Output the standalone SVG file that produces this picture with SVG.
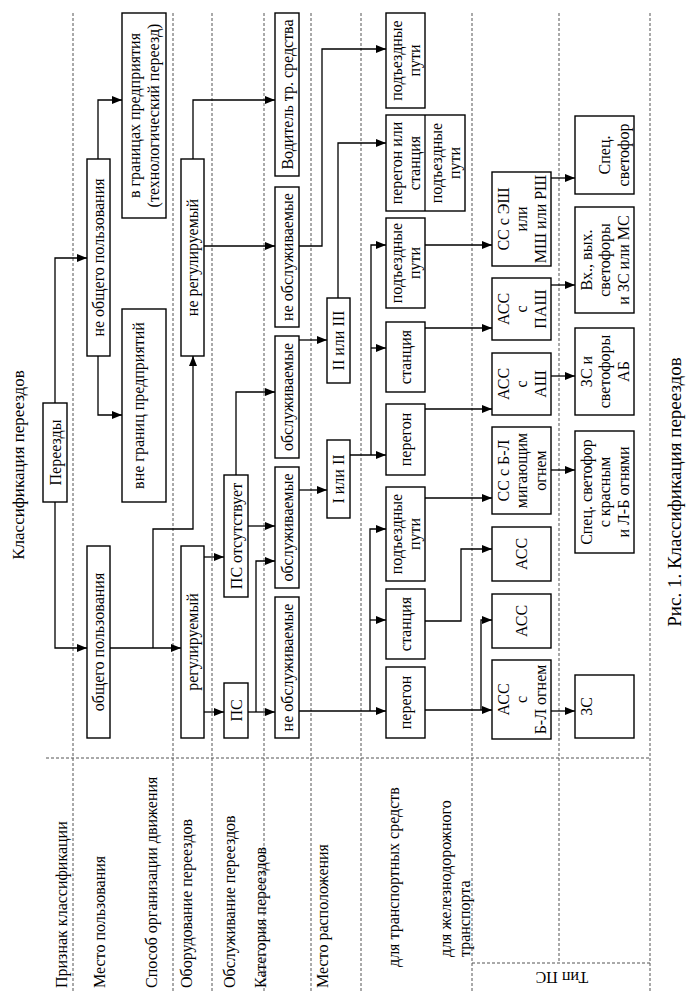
<svg xmlns="http://www.w3.org/2000/svg" width="691" height="1001" viewBox="0 0 691 1001">
<style>
.bx{fill:#fff;stroke:#000;stroke-width:1.4}
.t{font-family:"Liberation Serif","Times New Roman",serif;font-size:16px;fill:#000;text-anchor:middle}
.l{font-family:"Liberation Serif","Times New Roman",serif;font-size:16px;fill:#000;text-anchor:start}
.c{fill:none;stroke:#000;stroke-width:1.3}
.a{marker-end:url(#ah)}
.d{fill:none;stroke:#555;stroke-width:1;stroke-dasharray:3 2}
</style>
<defs>
<marker id="ah" viewBox="0 0 10 8" refX="10" refY="4" markerWidth="10" markerHeight="8" markerUnits="userSpaceOnUse" orient="auto"><path d="M0,0 L10,4 L0,8 z" fill="#000"/></marker>
</defs>
<rect width="691" height="1001" fill="#fff"/>

<g id="grid">
<path class="d" d="M73,13V992M173,13V992M212,13V992M264,13V992M311,13V992M361,13V992M472,13V992M559,13V963M650,13V992M46,758H650M472,963H650"/>
</g>

<g id="labels">
<text class="t" style="font-size:17px" transform="translate(24,465) rotate(-90)">Классификация переездов</text>
<text class="t" style="font-size:19px" transform="translate(681,492) rotate(-90)">Рис. 1. Классификация переездов</text>
<text class="l" transform="translate(67,988) rotate(-90)">Признак классификации</text>
<text class="l" transform="translate(105,988) rotate(-90)">Место пользования</text>
<text class="l" transform="translate(157,988) rotate(-90)">Способ организации движения</text>
<text class="l" transform="translate(192,988) rotate(-90)">Оборудование переездов</text>
<text class="l" transform="translate(235,988) rotate(-90)">Обслуживание переездов</text>
<text class="l" transform="translate(266,988) rotate(-90)">Категория переездов</text>
<text class="l" transform="translate(328,988) rotate(-90)">Место расположения</text>
<text class="l" transform="translate(399,967) rotate(-90)">для транспортных средств</text>
<text class="l" transform="translate(451,957) rotate(-90)"><tspan x="0" y="0">для железнодорожного</tspan><tspan x="0" y="19">транспорта</tspan></text>
<text class="t" transform="translate(562,978) rotate(180)" y="5.6">Тип ПС</text>
</g>

<g id="connectors">
<path class="c a" d="M55,403V258H87"/>
<path class="c a" d="M55,502V648H87"/>
<path class="c a" d="M98,159V100H122"/>
<path class="c a" d="M98,356V415H122"/>
<path class="c a" d="M110,648H181"/>
<path class="c a" d="M153,648V529H193V356"/>
<path class="c a" d="M193,159V100H275"/>
<path class="c a" d="M204,246H275"/>
<path class="c a" d="M204,557H224"/>
<path class="c a" d="M204,712H224"/>
<path class="c a" d="M236,475V392H275"/>
<path class="c a" d="M248,526H275"/>
<path class="c a" d="M248,712H275"/>
<path class="c a" d="M256,712V561H275"/>
<path class="c a" d="M299,246H322V49H386"/>
<path class="c a" d="M299,340H327"/>
<path class="c a" d="M299,490H327"/>
<path class="c a" d="M338,298V143H386"/>
<path class="c a" d="M350,455H386"/>
<path class="c a" d="M371,455V245H386"/>
<path class="c a" d="M371,348H386"/>
<path class="c a" d="M299,711H386"/>
<path class="c a" d="M370,711V529H386"/>
<path class="c a" d="M370,620H386"/>
<path class="c a" d="M425,245H492"/>
<path class="c a" d="M425,328H492"/>
<path class="c a" d="M425,409H492"/>
<path class="c a" d="M425,498H492"/>
<path class="c a" d="M425,621H461V549H492"/>
<path class="c a" d="M425,710H492"/>
<path class="c a" d="M481,710V620H492"/>
<path class="c a" d="M551,178H575"/>
<path class="c a" d="M551,285H575"/>
<path class="c a" d="M551,376H575"/>
<path class="c a" d="M551,470H575"/>
<path class="c a" d="M551,711H575"/>
</g>

<g id="n-pereezdy"><rect class="bx" x="43" y="403" width="24" height="99"/><text class="t" transform="translate(55,452.5) rotate(-90)" y="5.6">Переезды</text></g>
<g id="n-neobshch"><rect class="bx" x="87" y="159" width="23" height="197"/><text class="t" transform="translate(98.5,257.5) rotate(-90)" y="5.6">не общего пользования</text></g>
<g id="n-obshch"><rect class="bx" x="87" y="546" width="23" height="192"/><text class="t" transform="translate(98.5,642) rotate(-90)" y="5.6">общего пользования</text></g>
<g id="n-vgran"><rect class="bx" x="122" y="13" width="44" height="205"/><text class="t" transform="translate(144,115.5) rotate(-90)"><tspan x="0" y="-3.9">в границах предприятия</tspan><tspan x="0" y="15.1">(технологический переезд)</tspan></text></g>
<g id="n-vnegran"><rect class="bx" x="122" y="309" width="44" height="193"/><text class="t" transform="translate(144,405.5) rotate(-90)" y="0">вне границ предприятий</text></g>
<g id="n-nereg"><rect class="bx" x="181" y="159" width="23" height="197"/><text class="t" transform="translate(192.5,257.5) rotate(-90)" y="5.6">не регулируемый</text></g>
<g id="n-reg"><rect class="bx" x="181" y="546" width="23" height="192"/><text class="t" transform="translate(192.5,642) rotate(-90)" y="5.6">регулируемый</text></g>
<g id="n-psnet"><rect class="bx" x="224" y="475" width="24" height="122"/><text class="t" transform="translate(236,536) rotate(-90)" y="5.6">ПС отсутствует</text></g>
<g id="n-ps"><rect class="bx" x="224" y="683" width="24" height="55"/><text class="t" transform="translate(236,710.5) rotate(-90)" y="5.6">ПС</text></g>
<g id="n-voditel"><rect class="bx" x="275" y="13" width="24" height="163"/><text class="t" transform="translate(287,94.5) rotate(-90)" y="5.6">Водитель тр. средства</text></g>
<g id="n-neobsl1"><rect class="bx" x="275" y="187" width="24" height="140"/><text class="t" transform="translate(287,257) rotate(-90)" y="5.6">не обслуживаемые</text></g>
<g id="n-obsl1"><rect class="bx" x="275" y="336" width="24" height="122"/><text class="t" transform="translate(287,397) rotate(-90)" y="5.6">обслуживаемые</text></g>
<g id="n-obsl2"><rect class="bx" x="275" y="467" width="24" height="121"/><text class="t" transform="translate(287,527.5) rotate(-90)" y="5.6">обслуживаемые</text></g>
<g id="n-neobsl2"><rect class="bx" x="275" y="597" width="24" height="141"/><text class="t" transform="translate(287,667.5) rotate(-90)" y="5.6">не обслуживаемые</text></g>
<g id="n-cat23"><rect class="bx" x="327" y="298" width="23" height="85"/><text class="t" transform="translate(338.5,340.5) rotate(-90)" y="5.6">II или III</text></g>
<g id="n-cat12"><rect class="bx" x="327" y="440" width="23" height="78"/><text class="t" transform="translate(338.5,479) rotate(-90)" y="5.6">I или II</text></g>
<g id="n-podp1"><rect class="bx" x="386" y="13" width="39" height="95"/><text class="t" transform="translate(405.5,60.5) rotate(-90)"><tspan x="0" y="-3.4">подъездные</tspan><tspan x="0" y="14.6">пути</tspan></text></g>
<g id="n-perst"><rect class="bx" x="386" y="115" width="79" height="96"/><path class="c" d="M425,115V211"/><text class="t" transform="translate(405.5,163) rotate(-90)"><tspan x="0" y="-3.4">перегон или</tspan><tspan x="0" y="14.6">станция</tspan></text><text class="t" transform="translate(445,163) rotate(-90)"><tspan x="0" y="-3.4">подъездные</tspan><tspan x="0" y="14.6">пути</tspan></text></g>
<g id="n-podp2"><rect class="bx" x="386" y="218" width="39" height="90"/><text class="t" transform="translate(405.5,263) rotate(-90)"><tspan x="0" y="-3.4">подъездные</tspan><tspan x="0" y="14.6">пути</tspan></text></g>
<g id="n-st1"><rect class="bx" x="386" y="322" width="39" height="70"/><text class="t" transform="translate(405.5,357) rotate(-90)" y="5.6">станция</text></g>
<g id="n-per1"><rect class="bx" x="386" y="404" width="39" height="71"/><text class="t" transform="translate(405.5,439.5) rotate(-90)" y="5.6">перегон</text></g>
<g id="n-podp3"><rect class="bx" x="386" y="487" width="39" height="94"/><text class="t" transform="translate(405.5,534) rotate(-90)"><tspan x="0" y="-3.4">подъездные</tspan><tspan x="0" y="14.6">пути</tspan></text></g>
<g id="n-st2"><rect class="bx" x="386" y="589" width="39" height="70"/><text class="t" transform="translate(405.5,624) rotate(-90)" y="5.6">станция</text></g>
<g id="n-per2"><rect class="bx" x="386" y="667" width="39" height="71"/><text class="t" transform="translate(405.5,702.5) rotate(-90)" y="5.6">перегон</text></g>
<g id="n-ssesh"><rect class="bx" x="492" y="172" width="59" height="94"/><text class="t" transform="translate(521.5,219) rotate(-90)"><tspan x="0" y="-12.9">СС с ЭШ</tspan><tspan x="0" y="5.6">или</tspan><tspan x="0" y="24.1">МШ или РШ</tspan></text></g>
<g id="n-asspash"><rect class="bx" x="492" y="278" width="59" height="62"/><text class="t" transform="translate(521.5,309) rotate(-90)"><tspan x="0" y="-12.9">АСС</tspan><tspan x="0" y="5.6">с</tspan><tspan x="0" y="24.1">ПАШ</tspan></text></g>
<g id="n-assash"><rect class="bx" x="492" y="353" width="59" height="62"/><text class="t" transform="translate(521.5,384) rotate(-90)"><tspan x="0" y="-12.9">АСС</tspan><tspan x="0" y="5.6">с</tspan><tspan x="0" y="24.1">АШ</tspan></text></g>
<g id="n-ssbl"><rect class="bx" x="492" y="427" width="59" height="87"/><text class="t" transform="translate(521.5,470.5) rotate(-90)"><tspan x="0" y="-12.9">СС с Б-Л</tspan><tspan x="0" y="5.6">мигающим</tspan><tspan x="0" y="24.1">огнем</tspan></text></g>
<g id="n-ass1"><rect class="bx" x="492" y="527" width="59" height="54"/><text class="t" transform="translate(521.5,554) rotate(-90)" y="5.6">АСС</text></g>
<g id="n-ass2"><rect class="bx" x="492" y="594" width="59" height="54"/><text class="t" transform="translate(521.5,621) rotate(-90)" y="5.6">АСС</text></g>
<g id="n-assbl"><rect class="bx" x="492" y="660" width="59" height="79"/><text class="t" transform="translate(521.5,699.5) rotate(-90)"><tspan x="0" y="-12.9">АСС</tspan><tspan x="0" y="5.6">с</tspan><tspan x="0" y="24.1">Б-Л огнем</tspan></text></g>
<g id="n-spec1"><rect class="bx" x="575" y="116" width="59" height="78"/><text class="t" transform="translate(604.5,155) rotate(-90)"><tspan x="0" y="5.6">Спец.</tspan><tspan x="0" y="24.1">светофор</tspan></text></g>
<g id="n-vhvyh"><rect class="bx" x="575" y="207" width="59" height="106"/><text class="t" transform="translate(604.5,260) rotate(-90)"><tspan x="0" y="-12.9">Вх., вых.</tspan><tspan x="0" y="5.6">светофоры</tspan><tspan x="0" y="24.1">и ЗС или МС</tspan></text></g>
<g id="n-zsab"><rect class="bx" x="575" y="328" width="59" height="87"/><text class="t" transform="translate(604.5,371.5) rotate(-90)"><tspan x="0" y="-12.9">ЗС и</tspan><tspan x="0" y="5.6">светофоры</tspan><tspan x="0" y="24.1">АБ</tspan></text></g>
<g id="n-spec2"><rect class="bx" x="575" y="431" width="59" height="122"/><text class="t" transform="translate(604.5,492) rotate(-90)"><tspan x="0" y="-12.9">Спец. светофор</tspan><tspan x="0" y="5.6">с красным</tspan><tspan x="0" y="24.1">и Л-Б огнями</tspan></text></g>
<g id="n-zs"><rect class="bx" x="575" y="675" width="59" height="63"/><text class="t" transform="translate(604.5,706.5) rotate(-90)" y="-12.9">ЗС</text></g>
</svg>
